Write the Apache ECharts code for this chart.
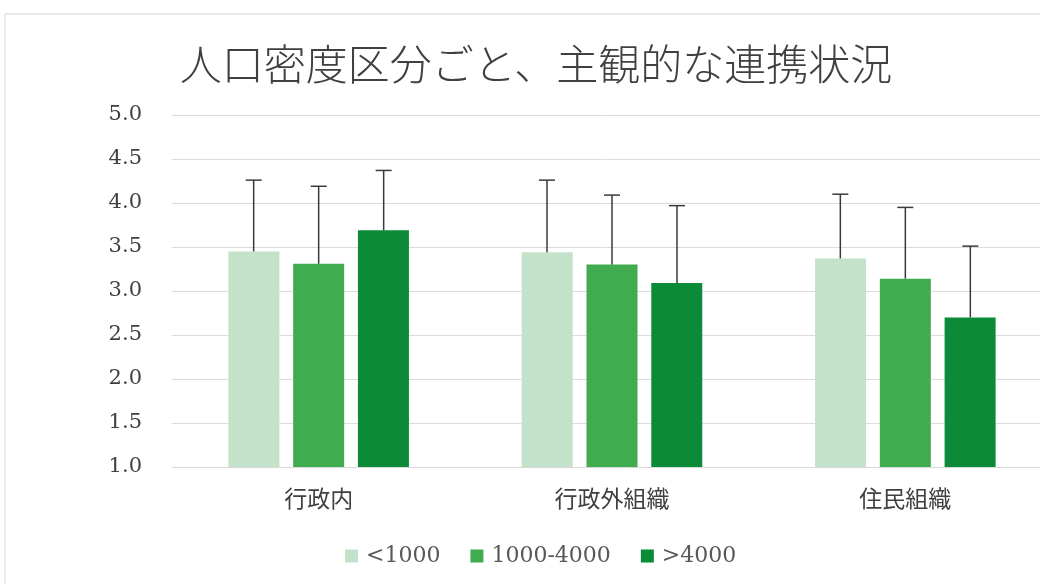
<!DOCTYPE html>
<html><head><meta charset="utf-8">
<script src="https://cdn.jsdelivr.net/npm/echarts@6/dist/echarts.min.js"></script>
<style>html,body{margin:0;padding:0;background:#fff;}#c{width:1040px;height:584px;}</style>
</head><body><div id="c"></div>
<script>
const categories = ['行政内', '行政外組織', '住民組織'];
const seriesNames = ['<1000', '1000-4000', '>4000'];
const meanLow = [3.45, 3.44, 3.37];
const meanMid = [3.31, 3.30, 3.14];
const meanHigh = [3.69, 3.09, 2.70];
const sdLow = [0.81, 0.82, 0.73];
const sdMid = [0.88, 0.79, 0.81];
const sdHigh = [0.68, 0.88, 0.81];
const yTicks = ['1.0','1.5','2.0','2.5','3.0','3.5','4.0','4.5','5.0'];

const colors = ['#c4e1ca', '#41ab4f', '#0b8a38'];
const means = [meanLow, meanMid, meanHigh];
const sds = [sdLow, sdMid, sdHigh];
const BAR_W = 51, BAR_STEP = 65;

const chart = echarts.init(document.getElementById('c'));
const series = [];
means.forEach((m, i) => {
  series.push({
    name: seriesNames[i], type: 'bar', data: m, barWidth: BAR_W, barGap: '27%',
    itemStyle: { color: colors[i] }, z: 2
  });
});
means.forEach((m, i) => {
  series.push({
    type: 'custom', name: 'err' + i, z: 3, silent: true,
    data: m.map((v, k) => [k, v, v + sds[i][k]]),
    renderItem: function (params, api) {
      const c = api.value(0);
      const p0 = api.coord([c, api.value(1)]);
      const p1 = api.coord([c, api.value(2)]);
      const x = p0[0] + (i - 1) * BAR_STEP;
      const st = { stroke: '#3a3a3a', lineWidth: 1.5 };
      return { type: 'group', children: [
        { type: 'line', shape: { x1: x, y1: p0[1], x2: x, y2: p1[1] }, style: st },
        { type: 'line', shape: { x1: x - 8, y1: p1[1], x2: x + 8, y2: p1[1] }, style: st }
      ]};
    },
    encode: { x: 0, y: [1, 2] }
  });
});

chart.setOption({
  animation: false,
  graphic: [{ type: 'rect', shape: { x: 5, y: 14, width: 1100, height: 600 },
    style: { fill: 'none', stroke: '#d4d4d4', lineWidth: 1 }, silent: true }],
  title: { text: '人口密度区分ごと、主観的な連携状況', left: 531, textAlign: 'center', top: 38,
    textStyle: { fontFamily: 'Noto Sans CJK JP', fontWeight: 300, fontSize: 42, color: '#404040' } },
  legend: { data: seriesNames, top: 540, left: 340, itemWidth: 13, itemHeight: 13, itemGap: 30,
    icon: 'rect', textStyle: { fontFamily: 'DejaVu Serif', fontSize: 22, color: '#595959', padding: [0, 0, 0, 3] } },
  grid: { left: 172, width: 880, top: 115, bottom: 117, containLabel: false, outerBoundsMode: 'none' },
  xAxis: { type: 'category', data: categories,
    axisLine: { lineStyle: { color: '#d9d9d9' } }, axisTick: { show: false },
    axisLabel: { margin: 20, fontFamily: 'Noto Sans CJK JP', fontSize: 23, color: '#404040' } },
  yAxis: { type: 'value', min: 1, max: 5, interval: 0.5,
    axisLine: { show: false }, axisTick: { show: false },
    splitLine: { lineStyle: { color: '#dcdcdc' } },
    axisLabel: { margin: 30, fontFamily: 'DejaVu Serif', fontSize: 21, color: '#404040',
      formatter: (v) => yTicks[Math.round((v - 1) / 0.5)] } },
  series: series
});
</script></body></html>
